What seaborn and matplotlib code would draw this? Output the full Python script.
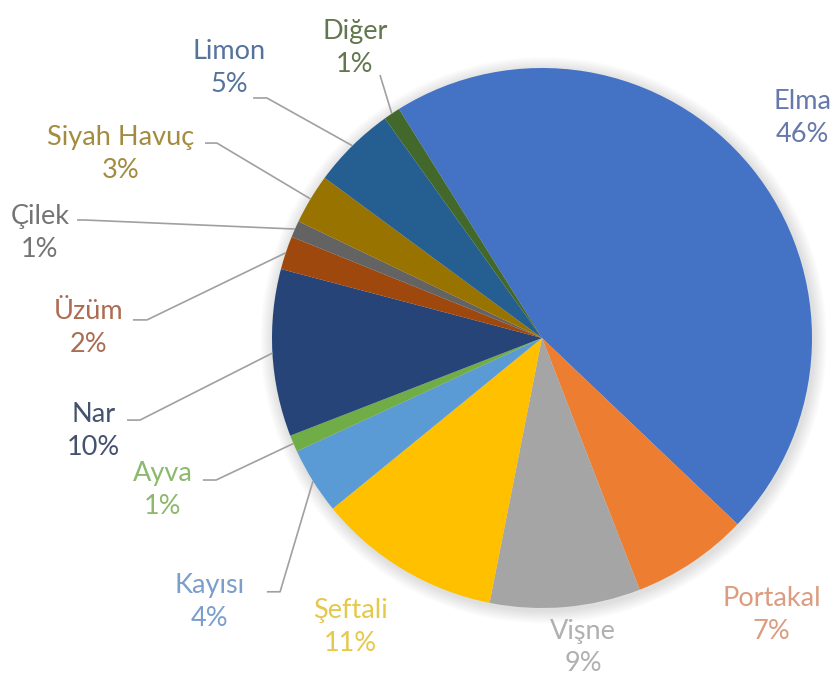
import numpy as np
import matplotlib
matplotlib.use("Agg")
import matplotlib.pyplot as plt
import seaborn as sns
from matplotlib.patches import Circle

# Share of each fruit in the total (percent)
fruits = ["Elma", "Portakal", "Vişne", "Şeftali", "Kayısı", "Ayva",
          "Nar", "Üzüm", "Çilek", "Siyah Havuç", "Limon", "Diğer"]
shares = [46, 7, 9, 11, 4, 1, 10, 2, 1, 3, 5, 1]

slice_colors = ["#4472C4", "#ED7D31", "#A5A5A5", "#FFC000", "#5B9BD5", "#70AD47",
                "#264478", "#9E480E", "#636363", "#997300", "#255E91", "#43682B"]
text_colors = ["#6679AA", "#DC9C80", "#B0B0B0", "#E6C84A", "#7A9FCB", "#8DB96E",
               "#45526F", "#AC6C52", "#747474", "#A38C40", "#56739C", "#62774E"]

# label centres (data units, pie radius = 1)
label_xy = [(0.963, 0.815), (0.850, -1.025), (0.152, -1.147), (-0.711, -1.070),
            (-1.230, -0.978), (-1.404, -0.562), (-1.661, -0.345), (-1.680, 0.037),
            (-1.860, 0.389), (-1.560, 0.682), (-1.160, 1.000), (-0.693, 1.073)]
# leader line start and elbow points (None = no leader)
leader_pts = [None, None, None, None,
              ((-1.019, -0.940), (-0.970, -0.940)),
              ((-1.256, -0.526), (-1.207, -0.526)),
              ((-1.537, -0.304), (-1.489, -0.304)),
              ((-1.515, 0.067), (-1.463, 0.067)),
              ((-1.722, 0.437), (-1.693, 0.437)),
              ((-1.248, 0.722), (-1.204, 0.722)),
              ((-1.070, 0.889), (-1.019, 0.889)),
              ((-0.600, 0.974), (-0.600, 0.974))]

sns.set_theme(style="white")
plt.rcParams["font.family"] = ["Lato", "DejaVu Sans"]

fig = plt.figure(figsize=(8.37, 6.78), dpi=100)
ax = fig.add_axes([0, 0, 1, 1])

# soft outer shadow behind the pie
for k in range(8):
    ax.add_patch(Circle((0.006, -0.008), 1.0 + 0.006 * (k + 1), color="#808080",
                        alpha=0.03, lw=0, zorder=0))

wedges, _ = ax.pie(shares, colors=slice_colors, startangle=122, counterclock=False,
                   radius=1.0, center=(0, 0), wedgeprops=dict(linewidth=0))
for w in wedges:
    w.set_zorder(2)

for i, (name, val) in enumerate(zip(fruits, shares)):
    x, y = label_xy[i]
    ax.text(x, y, f"{name}\n{val}%", ha="center", va="center", color=text_colors[i],
            fontsize=19.5, linespacing=1.38, zorder=4)
    if leader_pts[i] is not None:
        w = wedges[i]
        mid = np.deg2rad((w.theta1 + w.theta2) / 2)
        ex, ey = np.cos(mid), np.sin(mid)
        (sx, sy), (bx, by) = leader_pts[i]
        ax.plot([sx, bx, ex], [sy, by, ey], color="#A0A0A0", lw=1.2,
                solid_capstyle="butt", zorder=3)

ax.set_xlim(-542 / 270, (837 - 542) / 270)
ax.set_ylim((338 - 678) / 270, 338 / 270)
ax.set_aspect("equal")
ax.axis("off")

fig.savefig("out.png", dpi=100, facecolor="white")
